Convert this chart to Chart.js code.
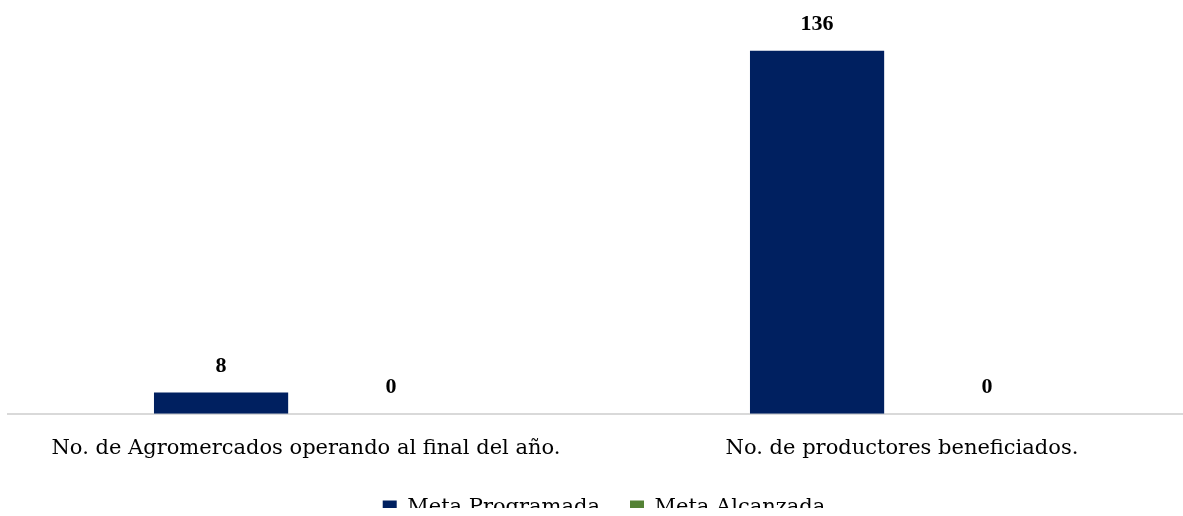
<!DOCTYPE html>
<html>
<head>
<meta charset="utf-8">
<script src="https://cdn.jsdelivr.net/npm/chart.js@4"></script>
<style>
  body { margin: 0; overflow: hidden; background: #fff; }
  #wrap { width: 1200px; height: 516px; }
</style>
</head>
<body>
<div id="wrap"><canvas id="graphics"></canvas></div>
<script>
const categories = ['No. de Agromercados operando al final del año.', 'No. de productores beneficiados.'];
const metaProgramada = [8, 136];
const metaAlcanzada = [0, 0];

const FONT = "'DejaVu Serif', 'Liberation Serif', serif";

// simple value labels above each bar
const valueLabels = {
    id: 'valueLabels',
    afterDatasetsDraw(chart) {
        const ctx = chart.ctx;
        ctx.save();
        ctx.font = "bold 22px 'Liberation Serif', serif";
        ctx.fillStyle = '#000';
        ctx.textAlign = 'center';
        ctx.textBaseline = 'middle';
        chart.data.datasets.forEach((ds, i) => {
            chart.getDatasetMeta(i).data.forEach((bar, j) => {
                ctx.fillText(ds.data[j], bar.x, bar.y - 26);
            });
        });
        ctx.restore();
    }
};

// legend needs wide gaps between items but not much height
const shortLegend = {
    id: 'shortLegend',
    beforeLayout(chart) {
        const lg = chart.legend;
        if (lg && !lg._patched) {
            const fit = lg.fit;
            lg.fit = function() {
                fit.call(this);
                this.height -= 20;
            };
            const draw = lg.draw;
            lg.draw = function() {
                this.ctx.save();
                this.ctx.translate(0, -8);
                draw.apply(this, arguments);
                this.ctx.restore();
            };
            lg._patched = true;
        }
    }
};

var ctx = document.getElementById('graphics').getContext('2d');
var myChart = new Chart(ctx, {
    type: 'bar',
    data: {
        labels: categories,
        datasets: [{
            label: 'Meta Programada',
            backgroundColor: '#002060',
            data: metaProgramada
        }, {
            label: 'Meta Alcanzada',
            backgroundColor: '#548235',
            data: metaAlcanzada
        }]
    },
    options: {
        responsive: true,
        maintainAspectRatio: false,
        animation: false,
        layout: { padding: { left: 8, right: 0, top: 0, bottom: 0 } },
        datasets: {
            bar: { barPercentage: 0.79, categoryPercentage: 0.57 }
        },
        scales: {
            x: {
                grid: { display: false },
                border: { color: '#d9d9d9', width: 2 },
                ticks: { color: '#000', font: { family: FONT, size: 21 }, padding: 14, maxRotation: 0 }
            },
            y: {
                display: false,
                min: 0,
                max: 155
            }
        },
        plugins: {
            legend: {
                position: 'bottom',
                labels: {
                    color: '#000',
                    font: { family: FONT, size: 21 },
                    boxWidth: 14,
                    boxHeight: 14,
                    padding: 30
                }
            },
            tooltip: { enabled: false }
        }
    },
    plugins: [valueLabels, shortLegend]
});
</script>
</body>
</html>
